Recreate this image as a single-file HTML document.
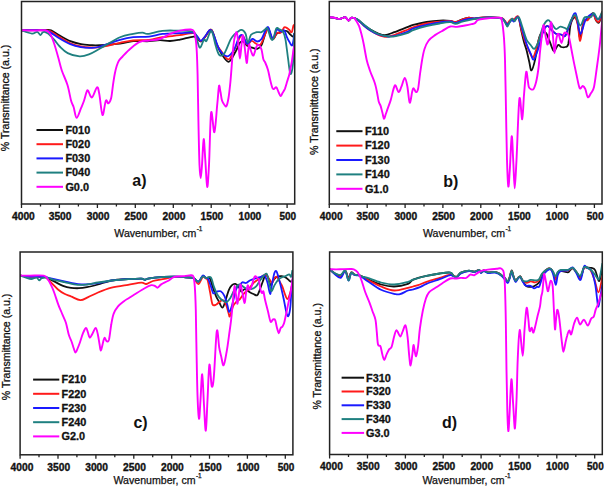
<!DOCTYPE html><html><head><meta charset="utf-8"><style>html,body{margin:0;padding:0;background:#fff;overflow:hidden;width:604px;height:487px;}svg{display:block;}text{font-family:"Liberation Sans",sans-serif;}</style></head><body>
<svg width="604" height="487" viewBox="0 0 604 487">
<rect width="604" height="487" fill="#fff"/>
<clipPath id="clipa"><rect x="21.5" y="1.5" width="273.2" height="202.5"/></clipPath>
<g clip-path="url(#clipa)" fill="none" stroke-linejoin="round" stroke-linecap="round">
<path d="M21.5,30.3 C25.4,30.2 40.8,30.1 45.0,30.0 C49.2,29.9 45.5,29.8 46.5,29.9 C47.5,29.9 48.9,29.4 51.1,30.3 C53.3,31.2 56.5,33.8 59.7,35.6 C62.9,37.4 66.8,39.8 70.3,41.2 C73.8,42.6 77.4,43.5 80.9,44.2 C84.4,44.9 88.3,45.0 91.5,45.2 C94.7,45.4 95.2,45.5 100.0,45.2 C104.8,44.9 114.5,44.3 120.0,43.6 C125.5,42.9 128.3,41.6 133.2,41.2 C138.0,40.8 144.6,41.4 149.1,41.2 C153.6,41.0 156.5,40.2 160.0,40.2 C163.5,40.2 166.7,41.1 170.0,41.0 C173.3,40.9 176.1,40.3 180.0,39.6 C183.9,38.9 190.7,36.8 193.5,36.6 C196.3,36.4 195.8,37.7 197.0,38.5 C198.2,39.3 199.6,41.8 201.0,41.5 C202.4,41.2 203.6,38.6 205.3,36.6 C207.0,34.6 209.5,28.4 211.4,29.8 C213.3,31.2 215.2,41.1 217.0,45.2 C218.8,49.3 220.0,51.6 221.9,54.4 C223.8,57.2 226.4,62.2 228.7,61.8 C230.9,61.4 233.5,55.2 235.4,52.0 C237.3,48.8 238.7,44.2 240.0,42.5 C241.3,40.8 241.8,41.0 243.0,41.5 C244.2,42.0 245.8,44.8 247.3,45.8 C248.8,46.8 250.5,47.1 252.2,47.6 C253.8,48.1 255.6,49.3 257.2,48.9 C258.8,48.5 260.1,48.0 261.5,45.2 C262.9,42.4 264.7,35.0 265.8,32.2 C266.9,29.4 267.2,27.5 268.3,28.6 C269.4,29.7 271.2,38.2 272.6,39.0 C274.0,39.8 275.4,34.7 276.9,33.5 C278.4,32.3 280.2,32.0 281.8,31.6 C283.4,31.2 285.3,30.5 286.7,31.0 C288.1,31.5 289.4,33.8 290.4,34.7 C291.4,35.6 292.2,36.8 292.9,36.6 C293.6,36.4 294.2,34.0 294.5,33.5" stroke="#111111" stroke-width="1.80"/>
<path d="M21.5,30.3 C25.4,30.3 40.2,30.1 45.0,30.3 C49.8,30.5 48.0,30.2 50.5,31.3 C53.0,32.4 56.4,35.0 59.7,37.0 C63.0,39.0 66.8,41.6 70.3,43.2 C73.8,44.8 77.4,45.8 80.9,46.5 C84.4,47.2 88.3,47.4 91.5,47.5 C94.7,47.6 95.2,48.0 100.0,47.2 C104.8,46.4 114.5,43.9 120.0,42.8 C125.5,41.7 128.3,41.0 133.2,40.5 C138.0,40.0 144.2,40.4 149.1,39.9 C154.0,39.4 157.3,38.0 162.4,37.2 C167.5,36.4 174.4,35.9 179.6,35.2 C184.8,34.5 190.6,32.9 193.5,33.2 C196.4,33.5 195.8,35.7 197.0,37.0 C198.2,38.3 199.6,41.1 201.0,41.0 C202.4,40.9 203.6,38.3 205.3,36.5 C207.0,34.7 209.5,28.6 211.4,30.0 C213.3,31.4 215.2,41.3 217.0,45.0 C218.8,48.7 220.0,49.6 221.9,52.0 C223.8,54.4 226.5,60.0 228.7,59.4 C230.9,58.8 233.1,52.0 235.0,48.3 C236.9,44.6 238.6,39.2 239.9,37.2 C241.2,35.2 241.8,34.8 243.0,36.0 C244.2,37.2 245.9,43.8 247.3,44.6 C248.7,45.4 250.0,41.0 251.6,40.9 C253.2,40.8 255.1,43.5 256.6,44.0 C258.2,44.5 259.3,46.2 260.9,44.0 C262.5,41.8 265.2,33.6 266.4,31.0 C267.6,28.4 267.3,27.3 268.3,28.6 C269.3,29.9 271.2,38.3 272.6,39.0 C274.0,39.7 275.6,33.9 276.9,32.9 C278.2,31.9 279.4,33.8 280.6,32.9 C281.8,32.0 283.3,28.1 284.3,27.3 C285.3,26.5 285.9,27.5 286.7,27.9 C287.5,28.3 288.4,29.1 289.2,29.8 C290.0,30.5 291.0,32.9 291.7,32.2 C292.4,31.5 292.9,26.7 293.5,25.5 C294.1,24.3 294.8,25.1 295.0,25.0" stroke="#ff1a1a" stroke-width="1.80"/>
<path d="M21.5,30.3 C25.4,30.3 40.2,29.9 45.0,30.3 C49.8,30.7 48.0,31.2 50.5,32.6 C53.0,34.0 56.4,36.6 59.7,38.5 C63.0,40.4 66.8,42.8 70.3,44.2 C73.8,45.7 77.4,46.6 80.9,47.2 C84.4,47.8 88.3,47.9 91.5,47.8 C94.7,47.7 95.2,47.8 100.0,46.5 C104.8,45.2 114.5,41.4 120.0,39.9 C125.5,38.4 128.3,37.8 133.2,37.2 C138.0,36.7 144.2,37.2 149.1,36.6 C154.0,36.0 157.3,34.5 162.4,33.9 C167.5,33.3 174.5,33.4 179.6,33.2 C184.7,33.0 189.9,32.1 192.8,32.6 C195.7,33.1 195.6,34.6 197.0,36.0 C198.4,37.4 199.6,40.9 201.0,40.9 C202.4,40.9 203.6,37.8 205.3,36.0 C207.0,34.2 209.1,28.1 211.4,30.4 C213.8,32.6 216.7,45.2 219.4,49.5 C222.1,53.8 224.9,56.3 227.4,56.3 C229.9,56.3 232.3,52.6 234.2,49.5 C236.1,46.4 237.3,40.2 238.7,37.8 C240.1,35.4 241.0,34.3 242.4,35.3 C243.8,36.3 245.7,43.4 247.3,44.0 C248.9,44.6 250.5,39.4 252.2,39.0 C253.8,38.6 255.6,41.5 257.2,41.5 C258.8,41.5 260.2,40.8 261.5,39.0 C262.8,37.2 264.1,33.0 265.2,31.0 C266.3,29.1 267.1,26.1 268.3,27.3 C269.5,28.5 271.2,38.0 272.6,38.4 C274.0,38.8 275.5,30.9 276.9,29.8 C278.3,28.7 280.0,31.5 281.2,31.6 C282.4,31.7 283.4,29.6 284.3,30.4 C285.2,31.2 285.9,34.8 286.7,36.6 C287.5,38.5 288.3,40.1 289.2,41.5 C290.1,42.9 291.4,46.5 292.3,45.2 C293.2,43.9 294.1,35.5 294.5,33.5" stroke="#1a1aff" stroke-width="1.80"/>
<path d="M21.5,30.3 C23.2,30.9 29.3,33.3 31.9,33.6 C34.5,33.9 35.8,31.7 37.2,31.9 C38.6,32.1 39.6,34.9 40.5,35.0 C41.4,35.1 41.8,33.1 42.5,32.6 C43.2,32.1 43.5,31.7 44.5,31.9 C45.5,32.1 46.9,32.6 48.5,33.9 C50.1,35.2 52.5,37.8 54.4,39.9 C56.3,42.0 57.5,44.3 59.7,46.5 C61.9,48.7 64.4,51.5 67.7,53.1 C71.0,54.8 76.1,56.2 79.6,56.4 C83.1,56.6 85.5,55.7 88.9,54.4 C92.3,53.1 94.8,51.4 100.0,48.5 C105.2,45.6 114.5,39.6 120.0,37.2 C125.5,34.8 129.4,34.7 133.2,33.9 C136.9,33.1 140.1,32.6 142.5,32.6 C144.9,32.6 144.5,34.2 147.8,33.9 C151.1,33.6 157.8,31.4 162.4,30.9 C167.0,30.3 170.8,30.5 175.6,30.6 C180.4,30.7 188.2,30.6 191.5,31.3 C194.8,32.0 194.1,31.9 195.5,34.6 C196.9,37.3 198.3,46.8 199.7,47.6 C201.1,48.4 202.9,40.7 204.0,39.6 C205.1,38.5 205.3,42.3 206.5,40.9 C207.7,39.5 209.9,30.2 211.4,31.0 C212.9,31.8 214.4,41.8 215.7,45.8 C217.0,49.8 217.9,53.8 219.4,55.0 C220.9,56.2 222.6,55.8 224.4,53.2 C226.2,50.6 228.9,42.7 230.5,39.6 C232.1,36.5 232.4,36.3 234.2,34.7 C236.0,33.1 239.3,30.0 241.2,29.8 C243.1,29.6 244.4,31.4 245.5,33.5 C246.6,35.6 247.0,42.5 247.9,42.7 C248.8,42.9 249.6,36.5 251.0,34.7 C252.4,33.0 254.9,32.6 256.6,32.2 C258.4,31.8 260.1,32.7 261.5,32.2 C262.9,31.7 264.2,29.8 265.2,29.2 C266.2,28.6 266.7,27.1 267.6,28.6 C268.5,30.1 269.8,36.7 270.7,38.4 C271.6,40.1 272.3,40.6 273.2,39.0 C274.1,37.4 275.3,30.2 276.3,28.6 C277.3,27.0 278.3,28.7 279.4,29.2 C280.5,29.7 282.0,29.9 283.0,31.6 C284.0,33.3 284.7,35.2 285.5,39.6 C286.3,44.0 287.2,52.4 288.0,58.1 C288.8,63.8 289.6,73.0 290.4,74.0 C291.2,75.0 292.2,71.0 292.9,64.3 C293.6,57.5 294.2,38.6 294.5,33.5" stroke="#1f8080" stroke-width="1.80"/>
<path d="M21.5,30.3 C23.8,30.3 31.1,30.5 35.0,30.5 C39.0,30.5 42.7,29.9 45.2,30.3 C47.7,30.8 48.4,31.2 49.8,33.2 C51.2,35.2 52.4,38.4 53.8,42.5 C55.2,46.6 57.1,53.3 58.4,58.0 C59.7,62.7 60.3,66.0 61.8,70.5 C63.3,75.0 65.9,79.8 67.4,84.8 C69.0,89.8 70.1,97.1 71.1,100.8 C72.1,104.5 72.7,104.2 73.6,107.0 C74.5,109.8 75.4,117.6 76.6,117.8 C77.8,118.0 79.8,111.0 81.0,108.2 C82.2,105.4 83.1,103.5 84.0,100.8 C84.9,98.1 85.8,93.9 86.5,92.2 C87.2,90.5 87.2,89.8 88.1,90.7 C89.0,91.6 90.5,98.0 92.0,97.4 C93.5,96.8 95.8,87.8 97.0,87.3 C98.2,86.8 98.5,90.0 99.4,94.6 C100.3,99.2 101.4,114.0 102.5,115.0 C103.6,116.0 104.8,102.8 105.8,100.8 C106.8,98.8 107.4,103.7 108.3,103.3 C109.2,102.9 110.3,101.4 111.1,98.3 C111.9,95.2 112.4,88.9 113.0,84.8 C113.6,80.7 114.2,76.8 114.8,73.7 C115.4,70.6 116.0,68.2 116.7,66.0 C117.4,63.8 118.0,62.1 119.0,60.5 C120.0,58.9 120.7,58.5 122.6,56.5 C124.5,54.5 127.7,50.9 130.6,48.5 C133.5,46.1 136.8,43.2 139.9,41.9 C143.0,40.6 145.8,41.0 149.1,40.5 C152.4,40.0 156.5,40.1 160.0,39.0 C163.5,37.9 166.7,35.3 170.0,33.9 C173.3,32.5 176.5,31.3 180.0,30.6 C183.5,29.9 188.6,29.4 190.9,29.5 C193.2,29.6 193.2,29.8 194.0,31.5 C194.8,33.2 195.3,36.6 195.8,40.0 C196.3,43.4 196.5,46.2 196.8,52.0 C197.1,57.8 197.3,63.7 197.6,75.0 C197.9,86.3 198.1,105.0 198.4,120.0 C198.7,135.0 199.1,155.3 199.5,165.0 C199.9,174.7 200.3,178.0 200.7,178.0 C201.1,178.0 201.5,171.5 202.0,165.0 C202.5,158.5 203.1,139.9 203.7,139.1 C204.2,138.3 204.7,152.0 205.3,160.0 C205.9,168.0 206.6,186.1 207.2,186.9 C207.8,187.7 208.3,177.4 209.0,165.0 C209.7,152.6 210.2,118.2 211.1,112.7 C212.0,107.2 213.4,133.7 214.4,132.2 C215.4,130.7 216.5,111.6 217.3,103.9 C218.1,96.2 218.5,88.0 219.0,86.0 C219.5,84.0 220.0,89.6 220.5,92.0 C221.0,94.4 221.3,98.3 222.0,100.5 C222.7,102.7 223.8,104.1 224.5,105.0 C225.2,105.9 225.8,107.2 226.5,106.0 C227.2,104.8 227.8,102.0 228.5,98.0 C229.2,94.0 229.8,88.0 230.4,82.0 C231.0,76.0 231.5,68.2 232.0,62.0 C232.5,55.8 233.0,49.3 233.5,45.0 C234.0,40.7 234.4,38.1 235.0,36.0 C235.6,33.9 236.2,31.0 236.8,32.5 C237.4,34.0 238.0,40.7 238.5,45.0 C239.0,49.3 239.4,58.5 239.9,58.5 C240.4,58.5 241.0,48.9 241.5,45.0 C242.0,41.1 242.4,34.8 243.0,35.3 C243.6,35.8 244.2,43.4 244.8,48.0 C245.4,52.6 246.2,62.3 246.7,63.0 C247.2,63.7 247.6,55.1 248.0,52.0 C248.4,48.9 248.7,44.8 249.2,44.6 C249.7,44.4 250.3,49.2 251.0,51.0 C251.7,52.8 252.6,56.3 253.5,55.5 C254.4,54.7 255.7,48.1 256.6,46.4 C257.5,44.7 258.2,44.7 259.0,45.2 C259.8,45.7 260.8,47.2 261.5,49.5 C262.2,51.8 262.7,56.8 263.3,59.0 C263.9,61.2 264.4,60.7 265.2,62.5 C266.0,64.3 267.2,67.2 268.0,70.0 C268.8,72.8 269.3,76.0 270.0,79.0 C270.7,82.0 271.7,86.3 272.4,88.0 C273.1,89.7 273.4,89.1 274.0,89.0 C274.6,88.9 275.6,86.8 276.3,87.3 C277.1,87.8 277.8,90.5 278.5,92.0 C279.2,93.5 279.9,95.8 280.6,96.0 C281.3,96.2 281.8,94.2 282.5,93.0 C283.2,91.8 284.1,90.6 284.9,88.8 C285.6,87.0 286.3,84.4 287.0,82.0 C287.7,79.6 288.6,77.1 289.3,74.4 C290.0,71.7 290.5,68.4 291.0,66.0 C291.5,63.6 291.7,62.7 292.1,60.0 C292.5,57.3 293.0,52.7 293.5,50.0 C294.0,47.3 294.8,45.0 295.0,44.0" stroke="#ff00ff" stroke-width="1.90"/>
</g>
<rect x="21.5" y="1.5" width="273.2" height="202.5" fill="none" stroke="#222" stroke-width="1.5"/>
<path d="M21.5,204.0V208.0M40.5,204.0V206.5M59.4,204.0V208.0M78.4,204.0V206.5M97.4,204.0V208.0M116.4,204.0V206.5M135.3,204.0V208.0M154.3,204.0V206.5M173.3,204.0V208.0M192.2,204.0V206.5M211.2,204.0V208.0M230.2,204.0V206.5M249.2,204.0V208.0M268.1,204.0V206.5M287.1,204.0V208.0" stroke="#222" stroke-width="1.3" fill="none"/>
<text x="23.4" y="219.7" font-size="10.3" font-weight="bold" stroke="#111" stroke-width="0.35" text-anchor="middle" textLength="22.8" lengthAdjust="spacingAndGlyphs" fill="#111">4000</text>
<text x="60.1" y="219.7" font-size="10.3" font-weight="bold" stroke="#111" stroke-width="0.35" text-anchor="middle" textLength="22.8" lengthAdjust="spacingAndGlyphs" fill="#111">3500</text>
<text x="98.1" y="219.7" font-size="10.3" font-weight="bold" stroke="#111" stroke-width="0.35" text-anchor="middle" textLength="22.8" lengthAdjust="spacingAndGlyphs" fill="#111">3000</text>
<text x="136.0" y="219.7" font-size="10.3" font-weight="bold" stroke="#111" stroke-width="0.35" text-anchor="middle" textLength="22.8" lengthAdjust="spacingAndGlyphs" fill="#111">2500</text>
<text x="174.0" y="219.7" font-size="10.3" font-weight="bold" stroke="#111" stroke-width="0.35" text-anchor="middle" textLength="22.8" lengthAdjust="spacingAndGlyphs" fill="#111">2000</text>
<text x="211.9" y="219.7" font-size="10.3" font-weight="bold" stroke="#111" stroke-width="0.35" text-anchor="middle" textLength="22.8" lengthAdjust="spacingAndGlyphs" fill="#111">1500</text>
<text x="249.9" y="219.7" font-size="10.3" font-weight="bold" stroke="#111" stroke-width="0.35" text-anchor="middle" textLength="22.8" lengthAdjust="spacingAndGlyphs" fill="#111">1000</text>
<text x="287.8" y="219.7" font-size="10.3" font-weight="bold" stroke="#111" stroke-width="0.35" text-anchor="middle" textLength="16.7" lengthAdjust="spacingAndGlyphs" fill="#111">500</text>
<text x="114.3" y="236.8" font-size="10.6" fill="#111" stroke="#111" stroke-width="0.25"><tspan textLength="82" lengthAdjust="spacingAndGlyphs">Wavenumber, cm</tspan><tspan font-size="6.5" dx="0.4" dy="-5.6">-1</tspan></text>
<text transform="translate(9.4,98.0) rotate(-90)" font-size="10.6" text-anchor="middle" fill="#111" stroke="#111" stroke-width="0.3">% Transmittance (a.u.)</text>
<line x1="36.5" y1="130.0" x2="63.0" y2="130.0" stroke="#111111" stroke-width="2"/>
<text x="65.4" y="133.8" font-size="10.9" font-weight="bold" stroke="#111" stroke-width="0.3" fill="#111">F010</text>
<line x1="36.5" y1="144.2" x2="63.0" y2="144.2" stroke="#ff1a1a" stroke-width="2"/>
<text x="65.4" y="148.0" font-size="10.9" font-weight="bold" stroke="#111" stroke-width="0.3" fill="#111">F020</text>
<line x1="36.5" y1="158.4" x2="63.0" y2="158.4" stroke="#1a1aff" stroke-width="2"/>
<text x="65.4" y="162.2" font-size="10.9" font-weight="bold" stroke="#111" stroke-width="0.3" fill="#111">F030</text>
<line x1="36.5" y1="172.6" x2="63.0" y2="172.6" stroke="#1f8080" stroke-width="2"/>
<text x="65.4" y="176.4" font-size="10.9" font-weight="bold" stroke="#111" stroke-width="0.3" fill="#111">F040</text>
<line x1="36.5" y1="186.8" x2="63.0" y2="186.8" stroke="#ff00ff" stroke-width="2"/>
<text x="65.4" y="190.6" font-size="10.9" font-weight="bold" stroke="#111" stroke-width="0.3" fill="#111">G0.0</text>
<text x="132.3" y="185.9" font-size="16" font-weight="bold" fill="#111">a)</text>
<clipPath id="clipb"><rect x="329.3" y="1.5" width="272.7" height="202.5"/></clipPath>
<g clip-path="url(#clipb)" fill="none" stroke-linejoin="round" stroke-linecap="round">
<path d="M329.5,17.2 C330.4,17.3 332.9,17.5 334.6,17.8 C336.3,18.1 338.1,19.0 339.9,18.9 C341.7,18.8 343.8,16.9 345.2,17.2 C346.6,17.5 347.5,20.5 348.5,20.6 C349.5,20.7 350.2,18.2 351.2,17.8 C352.2,17.4 353.3,17.8 354.5,18.2 C355.7,18.6 356.9,19.1 358.5,20.2 C360.1,21.3 361.8,23.3 363.8,24.9 C365.8,26.4 368.0,28.1 370.4,29.5 C372.8,30.9 375.9,32.5 378.3,33.5 C380.7,34.5 382.4,35.4 385.0,35.2 C387.6,35.0 390.4,33.6 394.2,32.2 C398.0,30.8 404.8,28.1 408.0,26.9 C411.2,25.7 410.1,25.7 413.2,24.9 C416.3,24.1 422.1,22.7 426.5,22.0 C430.9,21.3 435.7,20.8 439.7,20.6 C443.7,20.4 447.6,20.6 450.3,20.9 C453.0,21.2 453.6,22.5 455.6,22.2 C457.6,21.9 460.1,20.1 462.3,19.3 C464.5,18.5 466.9,17.7 468.9,17.6 C470.9,17.5 472.3,18.6 474.2,18.6 C476.1,18.6 477.4,18.0 480.0,17.8 C482.6,17.6 486.1,17.2 489.7,17.3 C493.3,17.4 499.1,17.4 501.6,18.1 C504.1,18.8 503.9,20.2 504.9,21.4 C505.8,22.6 506.5,25.5 507.3,25.5 C508.1,25.5 509.0,22.5 509.8,21.4 C510.6,20.3 511.5,19.1 512.2,19.0 C512.9,18.9 513.1,21.3 513.9,21.0 C514.7,20.7 516.0,17.5 516.8,17.0 C517.6,16.5 518.0,15.6 518.8,18.0 C519.6,20.4 520.6,27.5 521.5,31.5 C522.4,35.5 523.2,38.9 524.0,42.0 C524.8,45.1 525.6,46.6 526.5,50.0 C527.4,53.4 528.6,59.1 529.4,62.5 C530.2,65.9 530.5,70.9 531.5,70.4 C532.5,69.9 533.9,64.8 535.1,59.6 C536.3,54.5 537.6,43.9 538.7,39.5 C539.8,35.1 540.4,34.1 541.6,33.0 C542.8,31.9 544.6,31.7 545.9,33.0 C547.2,34.3 548.2,37.9 549.5,40.9 C550.8,43.9 552.4,50.3 553.8,51.0 C555.2,51.7 556.9,45.7 558.1,45.0 C559.3,44.3 560.0,46.7 561.2,47.0 C562.4,47.3 564.1,47.5 565.3,47.0 C566.5,46.5 567.4,47.6 568.3,44.0 C569.1,40.4 569.4,29.9 570.4,25.5 C571.4,21.1 573.3,17.8 574.5,17.3 C575.7,16.8 576.6,19.0 577.6,22.4 C578.6,25.8 579.2,38.0 580.2,37.8 C581.2,37.6 582.4,24.5 583.7,21.4 C585.0,18.3 586.3,20.8 587.8,19.4 C589.3,18.0 591.5,13.0 592.9,13.2 C594.3,13.4 595.0,18.9 596.0,20.4 C597.0,21.9 598.1,23.6 599.1,22.4 C600.1,21.2 601.5,14.7 602.0,13.2" stroke="#111111" stroke-width="1.80"/>
<path d="M329.5,17.2 C330.4,17.3 332.9,17.5 334.6,17.8 C336.3,18.1 338.1,19.0 339.9,18.9 C341.7,18.8 343.8,16.9 345.2,17.2 C346.6,17.5 347.5,20.5 348.5,20.6 C349.5,20.7 350.2,18.2 351.2,17.8 C352.2,17.4 353.3,17.8 354.5,18.2 C355.7,18.6 356.9,19.3 358.5,20.5 C360.1,21.7 361.8,23.8 363.8,25.5 C365.8,27.2 368.0,28.9 370.4,30.5 C372.8,32.0 375.6,33.8 378.3,34.8 C381.0,35.8 383.7,36.8 386.3,36.8 C388.9,36.8 390.6,36.2 394.2,35.0 C397.8,33.8 404.8,30.8 408.0,29.5 C411.2,28.2 410.1,28.3 413.2,27.3 C416.3,26.3 422.1,24.4 426.5,23.5 C430.9,22.6 435.7,22.0 439.7,21.6 C443.7,21.2 447.6,20.8 450.3,20.9 C453.0,21.0 453.6,22.4 455.6,22.2 C457.6,22.0 460.1,20.4 462.3,19.6 C464.5,18.8 466.9,17.8 468.9,17.6 C470.9,17.4 472.3,18.6 474.2,18.6 C476.1,18.6 477.4,17.8 480.0,17.6 C482.6,17.4 486.1,17.2 489.7,17.3 C493.3,17.4 499.1,17.5 501.6,18.1 C504.1,18.7 503.9,20.1 504.9,21.0 C505.8,21.9 506.5,23.6 507.3,23.5 C508.1,23.4 509.0,21.3 509.8,20.5 C510.6,19.7 511.5,18.8 512.2,18.6 C512.9,18.4 513.2,19.9 514.0,19.5 C514.8,19.1 516.0,16.8 516.8,16.5 C517.6,16.2 518.0,15.8 518.8,18.0 C519.6,20.2 520.6,26.7 521.5,30.0 C522.4,33.3 523.2,35.5 524.0,38.0 C524.8,40.5 525.5,42.5 526.5,45.0 C527.5,47.5 528.9,50.9 530.0,53.0 C531.1,55.1 532.0,57.9 533.0,57.4 C534.0,56.9 535.0,52.9 536.0,50.0 C537.0,47.1 537.5,43.3 538.7,40.0 C539.9,36.7 541.6,32.4 543.0,30.0 C544.4,27.6 545.9,25.8 547.3,25.8 C548.7,25.8 550.2,28.7 551.6,30.0 C553.0,31.3 554.3,33.0 555.9,33.7 C557.5,34.5 559.5,34.1 561.0,34.5 C562.5,34.9 563.6,37.4 565.0,35.9 C566.4,34.4 567.9,28.8 569.4,25.5 C570.9,22.2 572.6,16.2 574.0,16.0 C575.4,15.8 576.6,19.9 577.6,24.0 C578.6,28.1 579.2,41.2 580.2,40.9 C581.2,40.6 582.4,25.5 583.7,22.0 C585.0,18.5 586.3,21.3 587.8,20.0 C589.3,18.7 591.5,14.0 592.9,14.0 C594.3,14.0 595.0,18.8 596.0,20.0 C597.0,21.2 598.1,22.7 599.1,21.4 C600.1,20.1 601.5,13.6 602.0,12.0" stroke="#ff1a1a" stroke-width="1.80"/>
<path d="M329.5,17.2 C330.4,17.3 332.9,17.5 334.6,17.8 C336.3,18.1 338.1,19.0 339.9,18.9 C341.7,18.8 343.8,16.9 345.2,17.2 C346.6,17.5 347.5,20.5 348.5,20.6 C349.5,20.7 350.2,18.2 351.2,17.8 C352.2,17.4 353.3,17.8 354.5,18.2 C355.7,18.6 356.9,19.3 358.5,20.5 C360.1,21.7 361.8,23.8 363.8,25.5 C365.8,27.2 368.0,29.0 370.4,30.5 C372.8,32.0 375.4,33.5 378.3,34.5 C381.2,35.5 385.1,36.3 388.0,36.5 C390.9,36.7 392.7,36.3 396.0,35.5 C399.3,34.7 405.1,32.7 408.0,31.5 C410.9,30.3 410.1,29.6 413.2,28.5 C416.3,27.4 422.1,25.8 426.5,24.8 C430.9,23.8 435.7,23.1 439.7,22.5 C443.7,21.9 447.6,21.4 450.3,21.5 C453.0,21.6 453.6,23.2 455.6,23.0 C457.6,22.8 460.1,21.2 462.3,20.5 C464.5,19.8 465.9,19.2 468.9,18.8 C471.8,18.4 476.5,18.2 480.0,18.0 C483.5,17.8 486.1,17.2 489.7,17.3 C493.3,17.4 499.1,17.6 501.6,18.3 C504.1,19.0 503.9,20.5 504.9,21.5 C505.8,22.5 506.5,24.4 507.3,24.5 C508.1,24.6 509.0,22.8 509.8,22.0 C510.6,21.2 511.5,20.1 512.2,20.0 C512.9,19.9 513.2,21.9 514.0,21.5 C514.8,21.1 516.0,18.0 516.8,17.5 C517.6,17.0 517.9,16.5 518.8,18.5 C519.7,20.5 520.9,25.2 522.2,29.4 C523.5,33.6 525.1,39.7 526.5,43.8 C527.9,47.9 529.6,51.3 530.8,53.9 C532.0,56.5 532.5,60.3 533.7,59.6 C534.9,58.9 536.5,54.0 538.0,49.5 C539.5,45.0 541.5,36.2 543.0,32.3 C544.5,28.3 545.9,26.2 547.3,25.8 C548.7,25.4 550.2,28.8 551.6,30.1 C553.0,31.4 554.3,33.0 555.9,33.7 C557.5,34.4 559.4,34.1 561.0,34.5 C562.6,34.9 563.9,37.3 565.3,35.8 C566.7,34.3 567.7,29.3 569.4,25.5 C571.1,21.7 573.7,11.8 575.5,13.2 C577.3,14.6 578.5,32.7 580.2,33.7 C581.9,34.7 583.7,22.6 585.8,19.4 C587.9,16.1 590.9,14.2 592.9,14.2 C594.9,14.2 596.5,19.4 598.0,19.4 C599.5,19.4 601.3,15.1 602.0,14.2" stroke="#1a1aff" stroke-width="1.80"/>
<path d="M329.5,17.2 C330.4,17.3 332.9,17.5 334.6,17.8 C336.3,18.1 338.1,19.0 339.9,18.9 C341.7,18.8 343.8,16.9 345.2,17.2 C346.6,17.5 347.5,20.5 348.5,20.6 C349.5,20.7 350.2,18.2 351.2,17.8 C352.2,17.4 353.3,17.8 354.5,18.2 C355.7,18.6 356.9,18.9 358.5,20.0 C360.1,21.1 361.8,22.9 363.8,24.5 C365.8,26.1 368.0,27.9 370.4,29.5 C372.8,31.1 375.2,32.8 378.3,34.0 C381.4,35.2 385.9,36.2 388.9,36.5 C391.8,36.8 392.8,36.6 396.0,36.0 C399.2,35.4 405.1,33.8 408.0,32.8 C410.9,31.8 410.1,31.3 413.2,30.2 C416.3,29.1 422.1,27.3 426.5,26.2 C430.9,25.1 435.7,24.2 439.7,23.5 C443.7,22.8 447.6,22.1 450.3,22.2 C453.0,22.2 453.6,23.9 455.6,23.8 C457.6,23.7 460.1,22.2 462.3,21.6 C464.5,21.0 465.9,20.8 468.9,20.2 C471.8,19.6 476.5,18.7 480.0,18.2 C483.5,17.7 486.1,17.2 489.7,17.3 C493.3,17.4 499.1,17.8 501.6,18.6 C504.1,19.4 503.9,20.7 504.9,22.0 C505.8,23.3 506.5,26.5 507.3,26.5 C508.1,26.5 509.0,23.3 509.8,22.0 C510.6,20.7 511.4,18.8 512.2,18.6 C513.0,18.4 513.7,21.1 514.5,21.0 C515.3,20.9 516.0,18.5 516.8,18.0 C517.6,17.5 518.4,16.5 519.3,17.9 C520.2,19.3 521.0,23.0 522.2,26.6 C523.4,30.2 525.1,36.4 526.5,39.5 C527.9,42.6 529.5,43.7 530.8,45.2 C532.1,46.8 533.1,49.5 534.4,48.8 C535.7,48.1 537.3,44.6 538.7,40.9 C540.1,37.2 541.5,30.1 543.0,26.6 C544.5,23.1 546.6,20.6 548.0,20.1 C549.4,19.6 550.3,22.2 551.6,23.7 C552.9,25.2 554.5,28.5 555.9,29.0 C557.3,29.5 558.8,26.8 560.3,26.6 C561.8,26.4 563.8,27.7 565.0,28.0 C566.2,28.3 566.2,30.0 567.3,28.6 C568.4,27.2 570.0,21.6 571.4,19.4 C572.8,17.2 574.0,14.3 575.5,15.3 C577.0,16.3 578.7,25.2 580.2,25.5 C581.7,25.8 582.9,18.7 584.7,17.3 C586.5,15.9 589.4,18.0 590.9,17.3 C592.4,16.6 592.8,12.8 594.0,13.2 C595.2,13.5 596.7,19.6 598.0,19.4 C599.3,19.2 601.3,13.4 602.0,12.2" stroke="#1f8080" stroke-width="1.80"/>
<path d="M329.5,17.2 C330.4,17.3 332.9,17.5 334.6,17.8 C336.3,18.1 338.1,19.0 339.9,18.9 C341.7,18.8 343.8,16.9 345.2,17.2 C346.6,17.5 347.5,20.5 348.5,20.6 C349.5,20.7 350.2,18.2 351.2,17.8 C352.2,17.4 353.7,17.8 354.5,18.2 C355.3,18.6 355.0,18.9 355.8,20.2 C356.6,21.5 358.1,23.6 359.1,26.2 C360.1,28.8 361.0,32.5 361.8,35.5 C362.6,38.5 363.0,40.4 363.8,44.5 C364.6,48.6 365.7,55.6 366.7,60.0 C367.7,64.4 368.7,66.9 370.0,70.7 C371.3,74.5 373.6,79.4 374.7,82.7 C375.8,86.0 376.0,87.6 376.7,90.7 C377.4,93.8 378.0,98.8 378.7,101.4 C379.4,104.0 380.1,104.2 380.7,106.1 C381.3,108.0 381.9,110.9 382.5,113.0 C383.1,115.1 383.4,118.6 384.0,118.8 C384.6,119.0 385.2,115.6 385.8,114.0 C386.4,112.4 386.6,111.7 387.4,109.4 C388.2,107.1 389.7,103.4 390.7,100.1 C391.7,96.8 392.6,91.9 393.4,89.4 C394.2,87.0 394.5,85.0 395.4,85.4 C396.3,85.9 397.7,91.9 398.7,92.1 C399.7,92.3 400.4,89.0 401.4,86.7 C402.4,84.4 403.8,78.0 404.8,78.0 C405.8,78.0 406.6,82.6 407.4,86.7 C408.2,90.8 408.9,101.8 409.7,102.7 C410.5,103.6 411.5,94.5 412.1,92.1 C412.7,89.7 412.7,88.1 413.4,88.1 C414.1,88.1 415.3,92.0 416.1,92.1 C416.9,92.2 417.4,91.8 418.1,88.7 C418.8,85.6 419.4,78.2 420.1,73.4 C420.8,68.6 421.4,64.1 422.1,60.0 C422.8,55.9 423.4,52.3 424.5,49.0 C425.6,45.7 427.1,42.6 428.8,40.3 C430.6,38.0 432.7,36.7 435.0,35.1 C437.3,33.5 439.8,32.2 442.4,30.8 C444.9,29.4 447.9,27.1 450.3,26.5 C452.7,25.9 454.6,27.1 457.0,26.9 C459.4,26.7 462.5,25.9 464.9,25.5 C467.3,25.1 469.8,24.6 471.5,24.2 C473.2,23.8 473.8,23.8 474.9,23.1 C476.0,22.4 476.3,20.6 478.2,19.8 C480.1,19.0 482.8,18.9 486.4,18.5 C490.0,18.1 497.4,17.5 499.9,17.7 C502.4,17.9 501.1,18.4 501.6,19.8 C502.1,21.2 502.5,24.1 502.8,26.4 C503.1,28.7 503.3,30.6 503.6,33.7 C503.9,36.8 504.2,40.6 504.4,45.0 C504.6,49.4 504.7,49.2 505.0,60.0 C505.3,70.8 505.7,93.3 506.0,110.0 C506.3,126.7 506.6,147.3 507.0,160.0 C507.4,172.7 507.8,184.7 508.3,186.4 C508.8,188.1 509.2,178.3 509.8,170.0 C510.4,161.7 511.1,138.1 511.7,136.4 C512.3,134.7 512.7,151.3 513.2,160.0 C513.7,168.7 514.2,188.3 514.7,188.3 C515.2,188.3 515.7,174.9 516.5,160.0 C517.3,145.1 518.4,105.7 519.4,98.9 C520.4,92.1 521.4,119.9 522.2,119.2 C523.0,118.5 523.3,102.9 524.0,95.0 C524.7,87.1 525.5,74.2 526.2,72.0 C526.9,69.8 527.5,79.4 528.0,82.0 C528.5,84.6 528.3,86.6 529.2,87.8 C530.1,89.0 532.1,90.2 533.3,89.2 C534.4,88.2 535.2,85.5 536.1,82.0 C537.0,78.5 537.8,73.2 538.5,68.0 C539.2,62.8 539.5,56.5 540.1,51.0 C540.7,45.5 541.4,39.3 542.0,35.0 C542.6,30.7 543.1,24.6 543.7,25.1 C544.4,25.6 545.2,34.9 545.9,38.0 C546.6,41.1 547.2,46.4 548.0,43.8 C548.8,41.2 550.0,23.2 550.9,22.2 C551.8,21.2 552.5,32.9 553.1,38.0 C553.7,43.1 553.9,53.0 554.5,53.0 C555.1,53.0 555.8,41.2 556.5,38.0 C557.2,34.8 557.7,33.2 558.5,34.0 C559.3,34.8 560.6,43.1 561.5,43.0 C562.4,42.9 563.2,35.2 564.0,33.5 C564.8,31.8 565.8,32.8 566.5,33.0 C567.2,33.2 567.9,33.2 568.5,35.0 C569.1,36.8 569.6,39.8 570.4,44.0 C571.2,48.2 572.5,55.3 573.5,60.4 C574.5,65.5 575.5,70.1 576.5,74.7 C577.5,79.3 578.6,86.1 579.6,88.0 C580.6,89.9 581.8,85.8 582.7,86.0 C583.7,86.2 584.4,87.1 585.3,89.0 C586.1,90.9 586.9,96.5 587.8,97.2 C588.7,97.9 589.9,94.9 590.9,93.2 C591.9,91.5 593.0,91.5 594.0,87.0 C595.0,82.5 596.0,73.3 597.0,66.5 C598.0,59.7 598.9,52.8 599.7,46.0 C600.5,39.2 601.2,30.7 601.7,25.5 C602.2,20.3 602.8,16.8 603.0,15.0" stroke="#ff00ff" stroke-width="1.90"/>
</g>
<rect x="329.3" y="1.5" width="272.7" height="202.5" fill="none" stroke="#222" stroke-width="1.5"/>
<path d="M329.3,204.0V208.0M348.2,204.0V206.5M367.2,204.0V208.0M386.1,204.0V206.5M405.1,204.0V208.0M424.0,204.0V206.5M442.9,204.0V208.0M461.9,204.0V206.5M480.8,204.0V208.0M499.7,204.0V206.5M518.7,204.0V208.0M537.6,204.0V206.5M556.5,204.0V208.0M575.5,204.0V206.5M594.4,204.0V208.0" stroke="#222" stroke-width="1.3" fill="none"/>
<text x="331.2" y="219.7" font-size="10.3" font-weight="bold" stroke="#111" stroke-width="0.35" text-anchor="middle" textLength="22.8" lengthAdjust="spacingAndGlyphs" fill="#111">4000</text>
<text x="367.9" y="219.7" font-size="10.3" font-weight="bold" stroke="#111" stroke-width="0.35" text-anchor="middle" textLength="22.8" lengthAdjust="spacingAndGlyphs" fill="#111">3500</text>
<text x="405.8" y="219.7" font-size="10.3" font-weight="bold" stroke="#111" stroke-width="0.35" text-anchor="middle" textLength="22.8" lengthAdjust="spacingAndGlyphs" fill="#111">3000</text>
<text x="443.6" y="219.7" font-size="10.3" font-weight="bold" stroke="#111" stroke-width="0.35" text-anchor="middle" textLength="22.8" lengthAdjust="spacingAndGlyphs" fill="#111">2500</text>
<text x="481.5" y="219.7" font-size="10.3" font-weight="bold" stroke="#111" stroke-width="0.35" text-anchor="middle" textLength="22.8" lengthAdjust="spacingAndGlyphs" fill="#111">2000</text>
<text x="519.4" y="219.7" font-size="10.3" font-weight="bold" stroke="#111" stroke-width="0.35" text-anchor="middle" textLength="22.8" lengthAdjust="spacingAndGlyphs" fill="#111">1500</text>
<text x="557.2" y="219.7" font-size="10.3" font-weight="bold" stroke="#111" stroke-width="0.35" text-anchor="middle" textLength="22.8" lengthAdjust="spacingAndGlyphs" fill="#111">1000</text>
<text x="595.1" y="219.7" font-size="10.3" font-weight="bold" stroke="#111" stroke-width="0.35" text-anchor="middle" textLength="16.7" lengthAdjust="spacingAndGlyphs" fill="#111">500</text>
<text x="423.0" y="236.8" font-size="10.6" fill="#111" stroke="#111" stroke-width="0.25"><tspan textLength="82" lengthAdjust="spacingAndGlyphs">Wavenumber, cm</tspan><tspan font-size="6.5" dx="0.4" dy="-5.6">-1</tspan></text>
<text transform="translate(318.0,101.7) rotate(-90)" font-size="10.6" text-anchor="middle" fill="#111" stroke="#111" stroke-width="0.3">% Transmittance (a.u.)</text>
<line x1="336.3" y1="131.2" x2="362.5" y2="131.2" stroke="#111111" stroke-width="2"/>
<text x="364.9" y="135.0" font-size="10.9" font-weight="bold" stroke="#111" stroke-width="0.3" fill="#111">F110</text>
<line x1="336.3" y1="145.6" x2="362.5" y2="145.6" stroke="#ff1a1a" stroke-width="2"/>
<text x="364.9" y="149.4" font-size="10.9" font-weight="bold" stroke="#111" stroke-width="0.3" fill="#111">F120</text>
<line x1="336.3" y1="160.0" x2="362.5" y2="160.0" stroke="#1a1aff" stroke-width="2"/>
<text x="364.9" y="163.8" font-size="10.9" font-weight="bold" stroke="#111" stroke-width="0.3" fill="#111">F130</text>
<line x1="336.3" y1="174.4" x2="362.5" y2="174.4" stroke="#1f8080" stroke-width="2"/>
<text x="364.9" y="178.2" font-size="10.9" font-weight="bold" stroke="#111" stroke-width="0.3" fill="#111">F140</text>
<line x1="336.3" y1="188.8" x2="362.5" y2="188.8" stroke="#ff00ff" stroke-width="2"/>
<text x="364.9" y="192.6" font-size="10.9" font-weight="bold" stroke="#111" stroke-width="0.3" fill="#111">G1.0</text>
<text x="443.3" y="186.8" font-size="16" font-weight="bold" fill="#111">b)</text>
<clipPath id="clipc"><rect x="20.1" y="252.0" width="272.8" height="202.8"/></clipPath>
<g clip-path="url(#clipc)" fill="none" stroke-linejoin="round" stroke-linecap="round">
<path d="M20.1,275.6 C21.8,275.8 26.0,276.3 30.0,276.5 C34.0,276.7 40.9,276.4 44.0,276.8 C47.1,277.2 46.6,277.8 48.5,278.6 C50.4,279.5 52.7,280.7 55.1,281.9 C57.5,283.1 60.4,284.8 63.0,285.8 C65.7,286.8 68.3,287.4 71.0,287.8 C73.7,288.2 76.2,288.3 78.9,288.2 C81.6,288.1 83.7,287.8 86.9,287.2 C90.1,286.6 93.9,285.6 98.0,284.5 C102.1,283.4 106.6,281.4 111.6,280.5 C116.6,279.6 123.1,279.4 128.1,279.1 C133.1,278.8 138.6,278.5 141.4,278.6 C144.2,278.7 143.6,279.9 144.7,279.9 C145.8,279.9 145.2,279.1 148.0,278.6 C150.8,278.2 156.8,277.5 161.2,277.2 C165.6,276.9 169.5,276.5 174.5,276.6 C179.5,276.7 187.7,277.4 191.0,277.7 C194.3,278.0 193.1,277.9 194.3,278.6 C195.6,279.3 197.1,282.1 198.5,281.7 C199.9,281.3 201.6,276.6 202.8,276.0 C204.0,275.4 204.8,277.7 205.9,278.0 C207.0,278.3 208.5,276.6 209.6,278.0 C210.7,279.4 211.6,283.7 212.6,286.6 C213.6,289.5 214.7,292.8 215.7,295.3 C216.7,297.8 217.7,299.3 218.8,301.4 C219.9,303.4 221.4,307.8 222.5,307.6 C223.6,307.4 224.6,303.1 225.6,300.2 C226.6,297.3 227.7,292.8 228.7,290.3 C229.7,287.8 230.6,286.5 231.7,285.4 C232.8,284.3 234.2,283.7 235.4,283.9 C236.6,284.1 237.7,285.3 238.7,286.6 C239.7,287.9 240.2,291.2 241.2,291.6 C242.2,292.0 243.5,289.0 244.9,289.1 C246.3,289.2 248.4,291.4 249.8,292.2 C251.2,293.0 252.3,293.5 253.5,294.0 C254.7,294.5 256.2,295.9 257.2,295.3 C258.2,294.7 258.7,292.6 259.6,290.3 C260.5,288.0 261.7,284.4 262.7,281.7 C263.7,279.0 264.9,274.9 265.8,274.3 C266.7,273.7 267.5,276.1 268.3,278.0 C269.1,279.9 269.9,285.0 270.7,285.4 C271.5,285.8 272.2,281.9 273.2,280.5 C274.2,279.1 275.5,277.5 276.9,276.8 C278.3,276.1 280.4,276.1 281.8,276.2 C283.2,276.3 284.3,276.7 285.5,277.4 C286.7,278.1 288.2,279.8 289.2,280.5 C290.2,281.2 291.1,282.1 291.7,281.7 C292.3,281.3 292.8,278.6 293.0,278.0" stroke="#111111" stroke-width="1.80"/>
<path d="M20.1,275.6 C21.8,275.8 26.0,276.3 30.0,276.5 C34.0,276.7 41.1,276.4 44.0,276.8 C46.9,277.2 45.7,277.4 47.1,278.6 C48.5,279.8 50.6,282.1 52.4,283.9 C54.2,285.7 55.7,287.5 57.7,289.2 C59.7,290.9 62.2,292.6 64.4,293.8 C66.6,295.0 68.3,295.3 71.0,296.4 C73.7,297.4 77.4,300.0 80.3,300.1 C83.2,300.2 85.2,298.4 88.2,297.1 C91.2,295.8 94.1,294.1 98.0,292.5 C101.9,290.9 106.6,289.0 111.6,287.7 C116.6,286.4 123.1,285.6 128.1,284.8 C133.1,284.0 138.4,282.8 141.4,282.7 C144.4,282.6 144.4,284.3 146.3,284.0 C148.2,283.7 150.0,281.9 153.0,281.0 C156.0,280.1 160.9,279.6 164.5,278.9 C168.1,278.2 170.1,277.1 174.5,276.9 C178.9,276.7 187.7,277.3 191.0,277.7 C194.3,278.1 193.1,277.9 194.3,279.0 C195.6,280.1 197.1,284.5 198.5,284.2 C199.9,283.9 201.6,277.9 202.8,277.0 C204.0,276.1 205.1,277.9 205.9,278.5 C206.7,279.1 207.0,278.1 207.7,280.5 C208.4,282.9 209.4,288.8 210.2,292.8 C211.0,296.8 211.6,302.6 212.6,304.5 C213.6,306.4 215.1,305.0 216.3,304.5 C217.5,304.0 218.9,302.1 220.0,301.4 C221.1,300.7 222.1,299.6 223.1,300.2 C224.1,300.8 225.3,302.9 226.2,305.1 C227.1,307.4 228.1,311.9 228.7,313.7 C229.3,315.5 229.2,317.4 229.9,316.2 C230.6,315.0 231.9,308.9 233.0,306.4 C234.1,303.9 235.5,302.6 236.7,301.4 C237.9,300.2 238.8,300.2 240.0,299.0 C241.2,297.8 242.2,295.6 243.6,294.0 C245.0,292.4 246.9,290.9 248.6,289.1 C250.2,287.3 251.9,284.6 253.5,283.0 C255.1,281.4 256.8,280.4 258.4,279.2 C260.0,278.0 262.1,276.3 263.3,275.6 C264.5,274.9 264.8,274.3 265.8,274.9 C266.8,275.5 268.5,277.9 269.5,279.2 C270.5,280.5 271.2,283.1 272.0,282.9 C272.8,282.7 273.6,279.0 274.4,278.0 C275.2,277.0 276.0,276.1 276.9,276.8 C277.8,277.5 279.1,280.7 280.0,282.3 C280.9,283.9 281.6,284.7 282.4,286.6 C283.2,288.6 284.1,291.9 284.9,294.0 C285.7,296.1 286.6,299.0 287.4,299.0 C288.2,299.0 289.1,296.1 289.8,294.0 C290.5,291.9 291.2,288.7 291.7,286.6 C292.2,284.6 292.8,282.5 293.0,281.7" stroke="#ff1a1a" stroke-width="1.80"/>
<path d="M20.1,275.6 C21.8,275.8 26.0,276.3 30.0,276.5 C34.0,276.7 40.9,276.6 44.0,276.8 C47.1,277.0 46.2,277.4 48.5,277.9 C50.8,278.4 54.0,279.1 57.7,279.9 C61.5,280.7 67.0,282.0 71.0,282.8 C75.0,283.6 77.1,284.4 81.6,284.5 C86.1,284.6 93.0,283.9 98.0,283.2 C103.0,282.5 106.6,281.2 111.6,280.5 C116.6,279.8 123.1,279.4 128.1,279.1 C133.1,278.8 138.6,278.5 141.4,278.6 C144.2,278.7 143.6,279.9 144.7,279.9 C145.8,279.9 145.2,279.1 148.0,278.6 C150.8,278.2 156.8,277.5 161.2,277.2 C165.6,276.9 169.5,276.5 174.5,276.6 C179.5,276.7 187.7,277.4 191.0,277.7 C194.3,278.0 193.1,277.9 194.3,278.6 C195.6,279.3 197.1,282.2 198.5,281.7 C199.9,281.2 201.6,276.2 202.8,275.6 C204.0,275.0 205.0,277.4 205.9,278.0 C206.8,278.6 207.4,277.6 208.3,279.2 C209.2,280.8 210.6,285.5 211.4,287.9 C212.2,290.3 212.4,292.8 213.3,293.4 C214.2,294.0 215.8,292.0 217.0,291.6 C218.2,291.2 219.5,290.6 220.7,291.3 C221.9,292.0 223.3,293.6 224.4,295.9 C225.5,298.2 226.6,302.4 227.4,305.1 C228.2,307.8 228.5,312.1 229.3,311.9 C230.1,311.7 231.4,307.3 232.4,303.9 C233.4,300.5 234.5,294.6 235.4,291.6 C236.3,288.6 237.1,287.1 237.9,286.0 C238.7,284.9 239.2,285.4 240.0,284.8 C240.8,284.2 241.4,282.6 242.4,282.3 C243.4,282.0 244.9,283.3 246.1,283.0 C247.3,282.7 248.4,281.2 249.8,280.5 C251.2,279.8 252.8,279.2 254.7,278.6 C256.5,278.0 259.2,277.3 260.9,276.8 C262.5,276.3 263.5,274.6 264.6,275.6 C265.7,276.6 266.7,279.9 267.6,283.0 C268.5,286.1 269.4,293.8 270.1,294.0 C270.8,294.2 271.3,287.7 272.0,284.2 C272.7,280.7 273.7,275.3 274.4,273.1 C275.1,270.9 275.6,270.4 276.3,271.2 C277.0,272.0 277.9,275.2 278.7,278.0 C279.5,280.8 280.4,284.4 281.2,287.9 C282.0,291.4 282.8,294.7 283.7,299.0 C284.6,303.3 285.9,310.9 286.7,313.7 C287.5,316.5 288.0,316.8 288.6,315.6 C289.2,314.4 289.9,311.2 290.4,306.4 C290.9,301.6 291.3,290.9 291.7,286.6 C292.1,282.3 292.8,281.5 293.0,280.5" stroke="#1a1aff" stroke-width="1.80"/>
<path d="M20.1,275.6 C21.1,275.9 24.1,277.0 26.0,277.6 C27.9,278.2 29.4,279.0 31.2,279.0 C33.0,279.0 35.2,277.4 36.5,277.6 C37.8,277.8 38.3,280.2 39.2,280.3 C40.1,280.4 40.6,278.6 41.8,278.2 C43.0,277.8 44.5,277.3 46.5,277.6 C48.5,277.9 50.8,279.1 53.8,279.9 C56.8,280.6 60.4,281.3 64.4,282.1 C68.4,282.9 73.8,284.4 77.6,284.8 C81.3,285.2 83.5,284.9 86.9,284.5 C90.3,284.1 93.9,283.2 98.0,282.5 C102.1,281.8 106.6,281.1 111.6,280.5 C116.6,279.9 123.1,279.4 128.1,279.1 C133.1,278.8 138.6,278.5 141.4,278.6 C144.2,278.7 143.6,279.9 144.7,279.9 C145.8,279.9 145.2,279.1 148.0,278.6 C150.8,278.2 156.8,277.5 161.2,277.2 C165.6,276.9 169.5,276.5 174.5,276.6 C179.5,276.7 187.7,277.4 191.0,277.7 C194.3,278.0 193.1,277.9 194.3,278.6 C195.6,279.3 197.1,282.1 198.5,281.7 C199.9,281.3 201.6,277.1 202.8,276.5 C204.0,275.9 204.6,277.9 205.9,278.0 C207.2,278.1 209.5,276.0 210.8,277.4 C212.1,278.8 212.9,283.8 213.9,286.6 C214.9,289.4 215.9,291.9 217.0,294.0 C218.1,296.1 219.5,297.8 220.7,299.0 C221.9,300.2 223.4,300.9 224.4,301.4 C225.4,301.9 225.8,302.6 226.8,302.0 C227.8,301.4 229.3,299.6 230.5,297.7 C231.7,295.8 233.0,292.4 234.2,290.3 C235.4,288.2 236.9,286.4 237.9,285.4 C238.9,284.4 239.2,284.4 240.0,284.5 C240.8,284.6 241.4,285.3 242.4,286.0 C243.4,286.7 244.7,288.0 246.1,288.5 C247.5,289.0 249.4,289.4 251.0,289.1 C252.6,288.8 254.2,288.2 255.9,286.6 C257.6,285.0 259.1,281.4 260.9,279.2 C262.6,277.0 265.1,273.3 266.4,273.7 C267.7,274.1 268.1,278.8 268.9,281.7 C269.7,284.6 270.4,290.4 271.3,291.0 C272.2,291.6 273.3,287.2 274.4,285.4 C275.5,283.5 276.9,281.2 278.1,279.9 C279.3,278.6 280.6,278.0 281.8,277.4 C283.0,276.8 284.3,276.7 285.5,276.2 C286.7,275.7 288.3,274.2 289.2,274.3 C290.1,274.4 290.6,277.4 291.1,276.8 C291.6,276.2 292.1,271.6 292.3,270.6" stroke="#1f8080" stroke-width="1.80"/>
<path d="M20.1,275.6 C21.8,275.6 26.1,275.6 30.0,275.6 C34.0,275.6 40.8,275.0 43.8,275.6 C46.8,276.2 46.6,277.6 47.8,279.2 C49.0,280.8 50.1,283.1 51.1,285.2 C52.1,287.3 52.8,288.7 54.0,292.0 C55.2,295.3 57.1,301.3 58.4,304.9 C59.7,308.5 60.8,310.5 62.0,313.5 C63.2,316.5 64.8,319.3 65.9,322.8 C67.0,326.3 67.8,331.5 68.8,334.7 C69.8,337.9 71.0,339.9 71.8,342.2 C72.6,344.5 73.2,346.8 73.8,348.5 C74.4,350.2 74.9,352.7 75.6,352.6 C76.3,352.5 77.1,349.7 77.8,348.0 C78.5,346.3 79.1,344.7 80.0,342.2 C80.9,339.7 82.0,335.6 83.0,333.2 C84.0,330.8 85.2,328.2 86.0,328.0 C86.8,327.8 87.2,330.4 87.8,332.0 C88.4,333.6 88.9,337.5 89.7,337.7 C90.5,337.9 91.7,334.8 92.7,333.2 C93.7,331.6 94.8,327.8 95.7,328.0 C96.6,328.2 97.3,332.0 97.9,334.7 C98.5,337.4 99.0,341.4 99.5,344.0 C100.0,346.6 100.3,350.7 100.9,350.4 C101.5,350.1 102.5,344.3 103.1,342.2 C103.7,340.1 104.0,337.8 104.6,337.7 C105.2,337.6 106.0,341.1 106.8,341.4 C107.5,341.6 108.3,342.0 109.1,339.2 C109.8,336.4 110.5,328.5 111.3,324.3 C112.0,320.1 112.5,316.8 113.6,313.8 C114.7,310.8 116.3,308.5 118.0,306.4 C119.7,304.3 122.2,302.6 124.0,301.2 C125.8,299.8 127.3,299.1 129.0,298.0 C130.7,296.9 131.8,296.1 134.4,294.5 C137.0,292.9 141.9,289.8 144.7,288.2 C147.5,286.6 149.6,285.6 151.3,285.2 C153.0,284.8 153.9,285.6 155.0,286.0 C156.1,286.4 156.6,288.0 157.6,287.7 C158.6,287.4 159.5,285.5 161.2,284.4 C162.9,283.3 165.6,282.2 167.8,281.0 C170.0,279.8 171.7,277.7 174.5,276.9 C177.3,276.1 181.7,276.4 184.4,276.1 C187.2,275.8 189.5,275.1 191.0,275.2 C192.5,275.3 192.9,275.0 193.5,276.9 C194.1,278.8 194.4,281.1 194.8,286.6 C195.2,292.1 195.5,299.4 195.8,310.0 C196.1,320.6 196.2,335.8 196.5,350.0 C196.8,364.2 197.1,383.5 197.5,395.0 C197.9,406.5 198.5,418.0 199.0,418.8 C199.5,419.6 200.0,407.4 200.5,400.0 C201.0,392.6 201.6,373.5 202.2,374.3 C202.8,375.1 203.4,395.6 204.0,405.0 C204.6,414.4 205.2,431.5 205.8,430.7 C206.4,429.9 206.9,411.0 207.5,400.0 C208.1,389.0 208.7,367.0 209.4,364.7 C210.1,362.4 211.0,384.0 211.7,386.1 C212.4,388.2 213.0,386.4 213.8,377.2 C214.7,368.0 215.9,336.1 216.8,331.2 C217.7,326.2 218.5,343.3 219.2,347.5 C219.9,351.7 220.5,353.4 221.2,356.4 C221.9,359.4 222.7,366.0 223.6,365.3 C224.5,364.6 225.7,356.9 226.6,352.0 C227.5,347.1 228.3,340.8 229.0,335.6 C229.7,330.4 230.4,325.7 231.0,320.8 C231.6,315.9 232.1,310.3 232.5,306.0 C232.9,301.7 233.2,298.4 233.5,295.0 C233.8,291.6 234.2,285.7 234.6,285.7 C235.0,285.7 235.5,292.0 236.0,295.0 C236.5,298.0 237.0,304.1 237.5,303.8 C238.0,303.5 238.5,296.2 239.0,293.0 C239.5,289.8 239.9,284.9 240.4,284.5 C240.9,284.1 241.3,287.5 242.0,290.6 C242.7,293.7 243.8,302.8 244.5,303.0 C245.2,303.2 245.6,294.9 246.2,292.0 C246.8,289.1 247.3,285.7 247.8,285.3 C248.3,284.9 248.8,289.6 249.4,289.8 C250.0,290.0 250.8,288.4 251.5,286.5 C252.2,284.6 253.3,280.0 253.9,278.3 C254.5,276.6 254.6,276.4 255.2,276.3 C255.8,276.2 256.6,277.3 257.2,277.9 C257.8,278.5 258.3,278.0 258.9,280.0 C259.4,282.0 260.0,287.6 260.5,289.8 C261.0,292.0 261.6,292.8 262.1,293.1 C262.6,293.4 262.9,290.4 263.4,291.5 C263.9,292.6 264.3,296.6 265.1,300.0 C265.9,303.4 267.1,308.0 268.0,311.6 C268.9,315.2 269.8,320.4 270.6,321.7 C271.4,323.0 272.2,319.8 273.0,319.5 C273.8,319.2 274.6,318.9 275.2,320.2 C275.8,321.5 276.3,325.2 276.9,327.4 C277.5,329.6 278.2,333.1 278.8,333.2 C279.4,333.3 280.0,329.2 280.6,328.1 C281.2,327.0 281.8,327.5 282.4,326.7 C283.0,325.9 283.5,325.1 284.1,323.1 C284.7,321.1 285.3,317.6 286.0,314.5 C286.7,311.4 287.4,307.8 288.1,304.4 C288.8,301.0 289.6,298.0 290.3,294.4 C291.0,290.8 291.6,286.6 292.1,282.9 C292.6,279.2 293.3,273.8 293.5,272.0" stroke="#ff00ff" stroke-width="1.90"/>
</g>
<rect x="20.1" y="252.0" width="272.8" height="202.8" fill="none" stroke="#222" stroke-width="1.5"/>
<path d="M20.1,454.8V458.8M39.0,454.8V457.3M58.0,454.8V458.8M76.9,454.8V457.3M95.9,454.8V458.8M114.8,454.8V457.3M133.8,454.8V458.8M152.7,454.8V457.3M171.7,454.8V458.8M190.6,454.8V457.3M209.5,454.8V458.8M228.5,454.8V457.3M247.4,454.8V458.8M266.4,454.8V457.3M285.3,454.8V458.8" stroke="#222" stroke-width="1.3" fill="none"/>
<text x="22.0" y="470.5" font-size="10.3" font-weight="bold" stroke="#111" stroke-width="0.35" text-anchor="middle" textLength="22.8" lengthAdjust="spacingAndGlyphs" fill="#111">4000</text>
<text x="58.7" y="470.5" font-size="10.3" font-weight="bold" stroke="#111" stroke-width="0.35" text-anchor="middle" textLength="22.8" lengthAdjust="spacingAndGlyphs" fill="#111">3500</text>
<text x="96.6" y="470.5" font-size="10.3" font-weight="bold" stroke="#111" stroke-width="0.35" text-anchor="middle" textLength="22.8" lengthAdjust="spacingAndGlyphs" fill="#111">3000</text>
<text x="134.5" y="470.5" font-size="10.3" font-weight="bold" stroke="#111" stroke-width="0.35" text-anchor="middle" textLength="22.8" lengthAdjust="spacingAndGlyphs" fill="#111">2500</text>
<text x="172.4" y="470.5" font-size="10.3" font-weight="bold" stroke="#111" stroke-width="0.35" text-anchor="middle" textLength="22.8" lengthAdjust="spacingAndGlyphs" fill="#111">2000</text>
<text x="210.2" y="470.5" font-size="10.3" font-weight="bold" stroke="#111" stroke-width="0.35" text-anchor="middle" textLength="22.8" lengthAdjust="spacingAndGlyphs" fill="#111">1500</text>
<text x="248.1" y="470.5" font-size="10.3" font-weight="bold" stroke="#111" stroke-width="0.35" text-anchor="middle" textLength="22.8" lengthAdjust="spacingAndGlyphs" fill="#111">1000</text>
<text x="286.0" y="470.5" font-size="10.3" font-weight="bold" stroke="#111" stroke-width="0.35" text-anchor="middle" textLength="16.7" lengthAdjust="spacingAndGlyphs" fill="#111">500</text>
<text x="113.5" y="483.7" font-size="10.6" fill="#111" stroke="#111" stroke-width="0.25"><tspan textLength="82" lengthAdjust="spacingAndGlyphs">Wavenumber, cm</tspan><tspan font-size="6.5" dx="0.4" dy="-5.6">-1</tspan></text>
<text transform="translate(10.0,346.9) rotate(-90)" font-size="10.6" text-anchor="middle" fill="#111" stroke="#111" stroke-width="0.3">% Transmittance (a.u.)</text>
<line x1="33.1" y1="379.6" x2="59.3" y2="379.6" stroke="#111111" stroke-width="2"/>
<text x="61.5" y="383.4" font-size="10.9" font-weight="bold" stroke="#111" stroke-width="0.3" fill="#111">F210</text>
<line x1="33.1" y1="393.8" x2="59.3" y2="393.8" stroke="#ff1a1a" stroke-width="2"/>
<text x="61.5" y="397.6" font-size="10.9" font-weight="bold" stroke="#111" stroke-width="0.3" fill="#111">F220</text>
<line x1="33.1" y1="408.0" x2="59.3" y2="408.0" stroke="#1a1aff" stroke-width="2"/>
<text x="61.5" y="411.8" font-size="10.9" font-weight="bold" stroke="#111" stroke-width="0.3" fill="#111">F230</text>
<line x1="33.1" y1="422.2" x2="59.3" y2="422.2" stroke="#1f8080" stroke-width="2"/>
<text x="61.5" y="426.0" font-size="10.9" font-weight="bold" stroke="#111" stroke-width="0.3" fill="#111">F240</text>
<line x1="33.1" y1="436.4" x2="59.3" y2="436.4" stroke="#ff00ff" stroke-width="2"/>
<text x="61.5" y="440.2" font-size="10.9" font-weight="bold" stroke="#111" stroke-width="0.3" fill="#111">G2.0</text>
<text x="133.4" y="427.9" font-size="16" font-weight="bold" fill="#111">c)</text>
<clipPath id="clipd"><rect x="329.6" y="252.0" width="272.7" height="202.5"/></clipPath>
<g clip-path="url(#clipd)" fill="none" stroke-linejoin="round" stroke-linecap="round">
<path d="M329.6,269.3 C330.4,269.9 332.8,272.2 334.6,273.2 C336.4,274.2 338.8,275.9 340.6,275.5 C342.4,275.1 343.9,270.2 345.2,270.6 C346.5,271.0 347.5,277.7 348.5,278.0 C349.5,278.3 350.2,273.2 351.2,272.6 C352.2,272.0 353.3,274.2 354.5,274.6 C355.7,275.0 357.2,274.9 358.5,275.2 C359.8,275.5 360.9,275.9 362.4,276.6 C363.9,277.3 364.6,277.9 367.7,279.2 C370.8,280.5 376.6,283.3 381.0,284.5 C385.4,285.7 389.7,286.6 394.2,286.5 C398.7,286.4 404.8,284.9 408.0,283.8 C411.2,282.7 410.1,280.9 413.2,279.6 C416.3,278.3 422.1,276.9 426.5,275.9 C430.9,274.9 435.7,274.1 439.7,273.5 C443.7,272.9 448.0,272.2 450.3,272.6 C452.6,273.0 452.5,275.2 453.6,275.9 C454.7,276.6 455.8,277.2 457.0,276.6 C458.2,276.1 458.9,273.6 460.9,272.6 C462.9,271.6 466.7,270.8 468.9,270.6 C471.1,270.5 472.5,271.8 474.2,271.7 C475.9,271.6 477.9,269.8 479.0,269.9 C480.1,270.0 480.2,272.3 481.0,272.4 C481.8,272.5 482.8,270.4 483.9,270.4 C485.0,270.4 486.1,272.1 487.9,272.4 C489.7,272.6 493.1,271.7 494.9,271.9 C496.7,272.1 497.6,272.7 498.8,273.4 C500.0,274.1 501.3,275.1 502.3,275.9 C503.3,276.6 503.9,277.0 504.8,277.9 C505.7,278.8 507.0,281.6 507.8,281.4 C508.6,281.2 509.2,278.7 509.8,276.9 C510.4,275.1 511.0,270.4 511.7,270.4 C512.4,270.4 513.0,275.1 513.7,276.9 C514.4,278.6 515.0,280.6 515.7,280.9 C516.4,281.1 517.0,279.1 517.7,278.4 C518.5,277.6 519.4,276.0 520.2,276.4 C521.0,276.8 521.6,279.4 522.7,281.0 C523.8,282.6 525.3,285.3 526.6,286.3 C527.9,287.3 529.4,286.8 530.6,286.8 C531.8,286.8 532.6,287.0 534.0,286.3 C535.4,285.6 537.6,284.5 538.9,282.8 C540.2,281.1 540.6,278.1 541.9,275.9 C543.2,273.7 545.4,270.5 546.9,269.4 C548.4,268.2 549.8,268.4 550.9,269.0 C552.0,269.6 552.5,271.4 553.3,273.0 C554.1,274.6 555.0,278.6 555.8,278.5 C556.5,278.4 557.0,273.8 557.8,272.5 C558.6,271.2 559.1,270.9 560.8,270.9 C562.4,270.9 566.2,272.4 567.7,272.4 C569.2,272.4 568.9,271.5 569.7,270.9 C570.5,270.2 571.5,268.2 572.7,268.5 C573.9,268.8 575.4,271.1 576.7,272.5 C578.0,273.9 579.4,277.8 580.6,277.0 C581.8,276.2 583.0,269.1 584.1,267.5 C585.2,265.9 585.9,267.4 587.1,267.5 C588.3,267.6 590.2,267.5 591.5,267.9 C592.8,268.3 593.9,268.0 595.1,270.1 C596.3,272.2 597.8,279.8 598.7,280.8 C599.7,281.8 600.2,278.1 600.8,276.0 C601.4,273.9 602.0,269.2 602.3,267.9" stroke="#111111" stroke-width="1.80"/>
<path d="M329.6,269.3 C330.4,270.0 332.8,272.2 334.6,273.5 C336.4,274.8 338.8,277.5 340.6,277.0 C342.4,276.5 343.9,270.3 345.2,270.6 C346.5,270.9 347.5,278.7 348.5,279.0 C349.5,279.3 350.2,273.3 351.2,272.6 C352.2,271.9 353.3,274.2 354.5,274.6 C355.7,275.0 357.2,274.8 358.5,275.2 C359.8,275.6 360.9,276.2 362.4,277.0 C363.9,277.8 364.6,278.3 367.7,279.9 C370.8,281.5 376.6,284.7 381.0,286.5 C385.4,288.3 389.7,290.3 394.2,290.5 C398.7,290.7 404.8,288.5 408.0,287.8 C411.2,287.1 411.2,287.1 413.2,286.5 C415.2,285.9 417.7,285.3 419.9,284.5 C422.1,283.7 423.2,283.0 426.5,281.9 C429.8,280.8 435.7,279.1 439.7,277.9 C443.7,276.7 448.0,274.9 450.3,274.6 C452.6,274.3 452.5,275.6 453.6,276.0 C454.7,276.4 455.8,277.3 457.0,276.8 C458.2,276.3 458.9,274.0 460.9,273.0 C462.9,272.0 466.7,271.0 468.9,270.8 C471.1,270.6 472.5,271.8 474.2,271.7 C475.9,271.6 477.9,269.9 479.0,270.0 C480.1,270.1 480.2,272.3 481.0,272.4 C481.8,272.5 482.8,270.4 483.9,270.4 C485.0,270.4 486.1,272.1 487.9,272.4 C489.7,272.6 493.1,271.7 494.9,271.9 C496.7,272.1 497.6,272.7 498.8,273.4 C500.0,274.1 501.3,275.1 502.3,275.9 C503.3,276.7 503.9,277.5 504.8,278.4 C505.7,279.3 507.0,281.6 507.8,281.4 C508.6,281.1 509.2,278.6 509.8,276.9 C510.4,275.2 511.0,271.0 511.7,271.0 C512.4,271.0 513.0,275.2 513.7,276.9 C514.4,278.5 515.0,280.6 515.7,280.9 C516.4,281.1 517.0,279.1 517.7,278.4 C518.5,277.6 519.4,276.1 520.2,276.4 C521.0,276.7 521.6,279.3 522.7,280.4 C523.8,281.5 525.3,282.6 526.6,282.8 C527.9,283.0 529.2,281.5 530.6,281.4 C532.0,281.3 533.6,282.4 535.0,282.3 C536.4,282.2 537.8,281.8 538.9,280.5 C540.0,279.2 540.7,276.2 541.9,274.5 C543.1,272.8 544.6,271.0 545.9,270.0 C547.2,269.0 548.7,268.1 549.9,268.6 C551.1,269.1 552.3,271.1 553.3,273.0 C554.3,274.9 555.0,279.9 555.8,279.9 C556.5,279.9 557.0,274.6 557.8,273.0 C558.6,271.4 559.1,270.8 560.8,270.4 C562.4,270.0 565.7,270.8 567.7,270.4 C569.7,270.0 571.2,267.8 572.7,268.2 C574.2,268.6 575.5,270.8 576.7,272.5 C577.9,274.2 579.0,279.1 580.1,278.4 C581.2,277.7 582.7,270.3 583.6,268.5 C584.5,266.7 584.5,267.3 585.6,267.5 C586.7,267.7 588.6,267.5 590.1,269.5 C591.6,271.5 593.0,275.6 594.4,279.4 C595.8,283.2 597.2,292.1 598.4,292.3 C599.6,292.5 601.0,283.5 601.6,280.8 C602.2,278.1 602.2,276.8 602.3,276.0" stroke="#ff1a1a" stroke-width="1.80"/>
<path d="M329.6,269.3 C330.4,270.1 332.8,272.6 334.6,274.0 C336.4,275.4 338.8,278.4 340.6,277.9 C342.4,277.4 343.9,270.6 345.2,271.0 C346.5,271.4 347.5,280.2 348.5,280.5 C349.5,280.8 350.2,273.9 351.2,273.0 C352.2,272.1 353.3,274.6 354.5,275.0 C355.7,275.4 357.2,275.1 358.5,275.5 C359.8,275.9 360.9,276.6 362.4,277.5 C363.9,278.4 364.6,279.1 367.7,281.2 C370.8,283.2 376.6,287.7 381.0,289.8 C385.4,291.9 391.0,293.1 394.2,293.8 C397.4,294.5 397.7,294.8 400.0,294.2 C402.3,293.6 405.8,291.3 408.0,290.5 C410.2,289.7 411.2,289.9 413.2,289.4 C415.2,288.8 417.7,288.1 419.9,287.2 C422.1,286.3 423.2,285.1 426.5,283.8 C429.8,282.5 435.7,280.6 439.7,279.2 C443.7,277.8 448.0,275.6 450.3,275.2 C452.6,274.8 452.5,276.2 453.6,276.5 C454.7,276.8 455.8,277.5 457.0,277.0 C458.2,276.5 458.9,274.5 460.9,273.5 C462.9,272.5 466.7,271.4 468.9,271.2 C471.1,270.9 472.5,272.1 474.2,272.0 C475.9,271.9 477.9,270.3 479.0,270.5 C480.1,270.7 480.2,272.9 481.0,273.0 C481.8,273.1 482.8,271.0 483.9,271.0 C485.0,271.0 486.1,272.8 487.9,273.0 C489.7,273.2 493.1,272.3 494.9,272.5 C496.7,272.7 497.6,273.3 498.8,274.0 C500.0,274.7 501.3,275.6 502.3,276.5 C503.3,277.4 503.9,278.4 504.8,279.5 C505.7,280.6 507.0,283.2 507.8,283.0 C508.6,282.8 509.2,279.8 509.8,278.0 C510.4,276.2 511.0,272.0 511.7,272.0 C512.4,272.0 513.0,276.3 513.7,278.0 C514.4,279.7 515.0,281.8 515.7,282.0 C516.4,282.2 517.0,279.8 517.7,279.0 C518.5,278.2 519.4,276.6 520.2,277.0 C521.0,277.4 522.0,280.2 522.7,281.5 C523.5,282.8 524.1,284.1 524.7,284.8 C525.4,285.5 525.6,285.6 526.6,285.8 C527.6,286.0 529.4,285.4 530.6,285.8 C531.8,286.2 532.9,288.1 534.0,288.3 C535.1,288.5 536.1,287.1 537.0,286.8 C537.9,286.5 538.4,288.1 539.4,286.3 C540.4,284.5 541.6,278.5 542.9,275.9 C544.1,273.3 545.6,272.0 546.9,270.9 C548.2,269.8 549.8,268.7 550.9,269.4 C552.0,270.1 552.5,272.3 553.3,274.9 C554.1,277.5 555.0,284.8 555.8,284.8 C556.5,284.8 557.0,277.2 557.8,274.9 C558.6,272.6 559.1,271.6 560.8,270.9 C562.4,270.1 565.7,271.0 567.7,270.4 C569.7,269.8 571.2,266.8 572.7,267.4 C574.2,268.0 575.4,271.8 576.7,273.9 C578.0,276.0 579.4,281.1 580.6,279.9 C581.8,278.7 583.0,268.5 584.1,266.5 C585.2,264.5 585.9,267.2 587.1,267.9 C588.3,268.6 590.2,268.2 591.5,270.8 C592.8,273.4 594.1,278.7 595.1,283.7 C596.1,288.7 596.8,297.1 597.3,300.9 C597.8,304.7 597.9,307.1 598.4,306.6 C598.9,306.1 599.5,301.6 600.1,298.0 C600.8,294.4 601.9,287.2 602.3,285.1" stroke="#1a1aff" stroke-width="1.80"/>
<path d="M329.6,269.3 C330.4,269.9 332.8,272.2 334.6,273.2 C336.4,274.1 338.8,275.4 340.6,275.0 C342.4,274.6 343.9,269.7 345.2,270.6 C346.5,271.5 347.5,280.2 348.5,280.5 C349.5,280.8 350.2,273.6 351.2,272.6 C352.2,271.6 353.3,274.2 354.5,274.6 C355.7,275.0 357.2,274.9 358.5,275.2 C359.8,275.5 360.9,276.2 362.4,276.6 C363.9,277.1 364.6,276.9 367.7,277.9 C370.8,278.9 376.6,281.4 381.0,282.5 C385.4,283.6 389.7,284.6 394.2,284.5 C398.7,284.4 404.8,282.7 408.0,281.9 C411.2,281.1 410.1,280.6 413.2,279.6 C416.3,278.6 422.1,276.9 426.5,275.9 C430.9,274.9 435.7,274.1 439.7,273.5 C443.7,272.9 448.0,272.2 450.3,272.6 C452.6,273.0 452.5,275.2 453.6,275.9 C454.7,276.6 455.8,277.2 457.0,276.6 C458.2,276.1 458.9,273.6 460.9,272.6 C462.9,271.6 466.7,270.8 468.9,270.6 C471.1,270.5 472.5,271.8 474.2,271.7 C475.9,271.6 477.9,269.8 479.0,269.9 C480.1,270.0 480.2,272.3 481.0,272.4 C481.8,272.5 482.8,270.4 483.9,270.4 C485.0,270.4 486.1,272.1 487.9,272.4 C489.7,272.6 493.1,271.7 494.9,271.9 C496.7,272.1 497.6,272.7 498.8,273.4 C500.0,274.1 501.3,275.1 502.3,275.9 C503.3,276.6 503.9,277.0 504.8,277.9 C505.7,278.8 507.0,281.6 507.8,281.4 C508.6,281.2 509.2,278.6 509.8,276.9 C510.4,275.2 511.0,271.0 511.7,271.0 C512.4,271.0 513.0,275.2 513.7,276.9 C514.4,278.5 515.0,280.6 515.7,280.9 C516.4,281.1 517.0,279.1 517.7,278.4 C518.5,277.6 519.4,276.1 520.2,276.4 C521.0,276.7 521.6,279.6 522.7,280.4 C523.8,281.2 525.3,281.5 526.6,281.4 C527.9,281.3 529.0,280.1 530.6,279.9 C532.2,279.7 534.6,280.5 536.0,280.4 C537.4,280.3 537.9,280.5 538.9,279.4 C539.9,278.3 540.7,275.5 541.9,273.9 C543.1,272.3 544.6,270.8 545.9,269.9 C547.2,269.0 548.8,268.2 549.9,268.4 C551.0,268.6 551.9,269.6 552.8,270.9 C553.7,272.2 554.5,276.2 555.3,276.4 C556.1,276.6 556.9,273.0 557.8,271.9 C558.7,270.8 559.1,270.2 560.8,269.9 C562.4,269.6 565.7,270.2 567.7,269.9 C569.7,269.6 571.4,267.7 572.7,267.9 C574.0,268.1 574.5,269.6 575.7,270.9 C576.9,272.2 578.8,276.4 580.1,275.9 C581.4,275.4 582.7,269.4 583.6,267.9 C584.5,266.4 584.5,266.8 585.6,267.0 C586.7,267.2 588.6,268.2 590.1,269.3 C591.6,270.4 593.0,272.0 594.4,273.7 C595.8,275.4 597.6,279.6 598.7,279.4 C599.8,279.1 600.2,274.8 600.8,272.2 C601.4,269.6 602.0,265.0 602.3,263.6" stroke="#1f8080" stroke-width="1.80"/>
<path d="M329.6,269.3 C331.3,269.3 336.3,269.4 340.0,269.3 C343.7,269.2 349.2,268.8 351.8,269.0 C354.4,269.2 354.6,269.7 355.8,270.6 C357.0,271.5 358.1,272.8 359.1,274.6 C360.1,276.4 360.8,278.3 361.8,281.2 C362.8,284.1 363.8,288.2 365.1,291.8 C366.4,295.4 368.3,299.4 369.5,302.6 C370.7,305.8 371.5,308.3 372.5,311.2 C373.5,314.1 374.8,316.4 375.5,319.9 C376.2,323.4 376.4,328.1 376.8,332.2 C377.2,336.3 377.4,342.1 378.0,344.5 C378.6,346.9 379.8,344.7 380.5,346.3 C381.2,347.9 381.7,352.0 382.3,354.3 C382.9,356.6 383.5,359.9 384.2,359.9 C384.9,359.9 385.8,356.1 386.6,354.3 C387.4,352.6 388.3,350.6 389.1,349.4 C389.9,348.2 390.8,348.9 391.6,346.9 C392.4,344.8 393.2,339.9 394.0,337.1 C394.8,334.3 395.5,330.4 396.5,330.3 C397.5,330.2 399.2,336.3 400.2,336.5 C401.2,336.7 401.7,333.5 402.6,331.6 C403.5,329.8 404.7,324.5 405.5,325.4 C406.3,326.3 407.0,332.1 407.6,337.1 C408.2,342.1 408.7,350.9 409.2,355.6 C409.7,360.3 410.1,365.8 410.6,365.4 C411.2,365.0 412.0,356.5 412.5,353.1 C413.0,349.7 413.1,344.6 413.7,345.1 C414.2,345.6 415.1,355.9 415.8,356.2 C416.5,356.5 417.3,351.5 418.0,346.9 C418.7,342.3 419.1,334.5 419.9,328.5 C420.7,322.5 421.8,315.8 422.8,310.8 C423.8,305.8 424.9,301.6 425.9,298.5 C426.9,295.4 427.6,294.0 429.0,292.3 C430.4,290.6 432.2,290.0 434.4,288.5 C436.6,287.0 439.8,284.9 442.4,283.2 C445.0,281.5 448.1,279.3 450.3,278.5 C452.5,277.7 453.8,278.6 455.6,278.5 C457.4,278.4 459.1,278.0 460.9,277.9 C462.7,277.8 464.6,278.4 466.2,277.9 C467.8,277.3 468.9,275.1 470.2,274.6 C471.5,274.2 472.9,275.5 474.2,275.2 C475.5,274.9 476.7,273.4 478.1,272.6 C479.6,271.8 480.9,270.9 482.9,270.4 C484.9,269.9 487.6,269.7 489.9,269.4 C492.2,269.1 495.0,268.9 496.8,268.7 C498.6,268.5 499.7,268.0 500.8,268.4 C501.9,268.8 502.7,269.5 503.3,270.9 C503.9,272.3 504.0,274.0 504.3,276.9 C504.6,279.8 504.8,280.8 505.0,288.0 C505.2,295.2 505.6,306.3 505.8,320.0 C506.1,333.7 506.2,355.0 506.5,370.0 C506.8,385.0 507.0,399.8 507.3,410.0 C507.6,420.2 507.9,430.2 508.3,431.0 C508.7,431.8 509.0,423.6 509.5,415.0 C510.0,406.4 510.8,381.0 511.4,379.3 C512.0,377.6 512.6,396.8 513.2,405.0 C513.8,413.2 514.4,429.3 514.9,428.5 C515.4,427.7 516.0,411.4 516.5,400.0 C517.0,388.6 517.2,371.7 517.7,360.0 C518.2,348.3 518.9,330.6 519.7,329.9 C520.5,329.2 521.9,355.9 522.7,355.9 C523.5,355.9 523.9,338.0 524.5,330.0 C525.1,322.0 526.0,309.8 526.6,308.0 C527.2,306.2 527.9,315.7 528.4,319.5 C528.9,323.3 529.0,329.6 529.6,331.0 C530.2,332.4 531.1,327.4 531.7,327.7 C532.3,328.0 532.8,333.0 533.4,332.6 C534.0,332.2 534.8,327.9 535.5,325.2 C536.2,322.5 536.8,319.3 537.5,316.2 C538.2,313.1 539.4,309.5 540.0,306.4 C540.6,303.2 540.7,299.8 541.1,297.3 C541.5,294.8 542.0,294.3 542.4,291.6 C542.8,288.9 543.1,284.0 543.4,281.0 C543.7,278.0 543.9,273.6 544.3,273.8 C544.7,274.0 545.4,279.1 546.0,282.0 C546.6,284.9 547.2,290.6 547.8,291.3 C548.3,292.0 548.8,287.8 549.3,286.0 C549.8,284.2 550.1,280.5 550.7,280.6 C551.3,280.7 552.2,281.3 552.7,286.5 C553.2,291.7 553.6,304.7 554.0,311.8 C554.4,318.9 554.7,328.0 555.0,329.4 C555.3,330.8 555.6,323.2 556.0,320.0 C556.4,316.8 556.7,310.6 557.2,309.9 C557.7,309.2 558.4,312.4 558.9,315.7 C559.4,318.9 560.0,324.8 560.5,329.4 C561.0,333.9 561.5,339.3 562.0,343.0 C562.5,346.7 562.8,351.8 563.4,351.8 C564.0,351.8 564.8,345.8 565.4,343.0 C566.0,340.2 566.6,337.3 567.3,335.2 C567.9,333.1 568.6,330.5 569.3,330.4 C569.9,330.2 570.4,335.4 571.2,334.3 C572.0,333.2 573.1,326.3 574.1,323.5 C575.1,320.7 576.1,317.5 577.1,317.7 C578.1,317.9 578.9,324.2 580.0,324.5 C581.1,324.8 582.6,319.4 583.9,319.6 C585.2,319.8 586.6,325.6 587.8,325.5 C589.0,325.4 590.1,320.2 591.1,318.7 C592.1,317.2 593.0,318.2 593.7,316.7 C594.5,315.2 594.9,312.0 595.6,309.9 C596.3,307.8 597.3,306.3 598.1,304.0 C598.9,301.7 599.8,298.5 600.5,296.2 C601.2,293.9 601.9,291.9 602.4,290.4 C602.9,288.9 603.3,287.6 603.5,287.0" stroke="#ff00ff" stroke-width="1.90"/>
</g>
<rect x="329.6" y="252.0" width="272.7" height="202.5" fill="none" stroke="#222" stroke-width="1.5"/>
<path d="M329.6,454.5V458.5M348.5,454.5V457.0M367.5,454.5V458.5M386.4,454.5V457.0M405.4,454.5V458.5M424.3,454.5V457.0M443.2,454.5V458.5M462.2,454.5V457.0M481.1,454.5V458.5M500.0,454.5V457.0M519.0,454.5V458.5M537.9,454.5V457.0M556.8,454.5V458.5M575.8,454.5V457.0M594.7,454.5V458.5" stroke="#222" stroke-width="1.3" fill="none"/>
<text x="331.5" y="470.2" font-size="10.3" font-weight="bold" stroke="#111" stroke-width="0.35" text-anchor="middle" textLength="22.8" lengthAdjust="spacingAndGlyphs" fill="#111">4000</text>
<text x="368.2" y="470.2" font-size="10.3" font-weight="bold" stroke="#111" stroke-width="0.35" text-anchor="middle" textLength="22.8" lengthAdjust="spacingAndGlyphs" fill="#111">3500</text>
<text x="406.1" y="470.2" font-size="10.3" font-weight="bold" stroke="#111" stroke-width="0.35" text-anchor="middle" textLength="22.8" lengthAdjust="spacingAndGlyphs" fill="#111">3000</text>
<text x="443.9" y="470.2" font-size="10.3" font-weight="bold" stroke="#111" stroke-width="0.35" text-anchor="middle" textLength="22.8" lengthAdjust="spacingAndGlyphs" fill="#111">2500</text>
<text x="481.8" y="470.2" font-size="10.3" font-weight="bold" stroke="#111" stroke-width="0.35" text-anchor="middle" textLength="22.8" lengthAdjust="spacingAndGlyphs" fill="#111">2000</text>
<text x="519.7" y="470.2" font-size="10.3" font-weight="bold" stroke="#111" stroke-width="0.35" text-anchor="middle" textLength="22.8" lengthAdjust="spacingAndGlyphs" fill="#111">1500</text>
<text x="557.5" y="470.2" font-size="10.3" font-weight="bold" stroke="#111" stroke-width="0.35" text-anchor="middle" textLength="22.8" lengthAdjust="spacingAndGlyphs" fill="#111">1000</text>
<text x="595.4" y="470.2" font-size="10.3" font-weight="bold" stroke="#111" stroke-width="0.35" text-anchor="middle" textLength="16.7" lengthAdjust="spacingAndGlyphs" fill="#111">500</text>
<text x="422.5" y="483.7" font-size="10.6" fill="#111" stroke="#111" stroke-width="0.25"><tspan textLength="82" lengthAdjust="spacingAndGlyphs">Wavenumber, cm</tspan><tspan font-size="6.5" dx="0.4" dy="-5.6">-1</tspan></text>
<text transform="translate(320.8,356.3) rotate(-90)" font-size="10.6" text-anchor="middle" fill="#111" stroke="#111" stroke-width="0.3">% Transmittance (a.u.)</text>
<line x1="341.6" y1="377.7" x2="364.1" y2="377.7" stroke="#111111" stroke-width="2"/>
<text x="366.0" y="381.5" font-size="10.9" font-weight="bold" stroke="#111" stroke-width="0.3" fill="#111">F310</text>
<line x1="341.6" y1="391.5" x2="364.1" y2="391.5" stroke="#ff1a1a" stroke-width="2"/>
<text x="366.0" y="395.3" font-size="10.9" font-weight="bold" stroke="#111" stroke-width="0.3" fill="#111">F320</text>
<line x1="341.6" y1="405.3" x2="364.1" y2="405.3" stroke="#1a1aff" stroke-width="2"/>
<text x="366.0" y="409.1" font-size="10.9" font-weight="bold" stroke="#111" stroke-width="0.3" fill="#111">F330</text>
<line x1="341.6" y1="419.1" x2="364.1" y2="419.1" stroke="#1f8080" stroke-width="2"/>
<text x="366.0" y="422.9" font-size="10.9" font-weight="bold" stroke="#111" stroke-width="0.3" fill="#111">F340</text>
<line x1="341.6" y1="432.9" x2="364.1" y2="432.9" stroke="#ff00ff" stroke-width="2"/>
<text x="366.0" y="436.7" font-size="10.9" font-weight="bold" stroke="#111" stroke-width="0.3" fill="#111">G3.0</text>
<text x="442.1" y="428.3" font-size="16" font-weight="bold" fill="#111">d)</text>
</svg></body></html>
